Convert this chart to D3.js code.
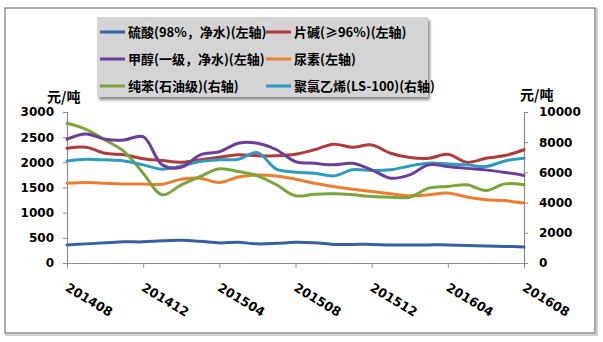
<!DOCTYPE html>
<html><head><meta charset="utf-8">
<script src="https://cdn.jsdelivr.net/npm/d3@7/dist/d3.min.js"></script>
<style>
html,body{margin:0;padding:0;background:#fff;}
svg{display:block;}
</style></head>
<body>
<svg id="c" width="603" height="342"></svg>
<script>
const months = ["201408","201409","201410","201411","201412","201501","201502","201503","201504","201505","201506","201507","201508","201509","201510","201511","201512","201601","201602","201603","201604","201605","201606","201607","201608"];
const tickLabels = ["201408","201412","201504","201508","201512","201604","201608"];
const leftTicks = [0,500,1000,1500,2000,2500,3000];
const rightTicks = [0,2000,4000,6000,8000,10000];

const sulfuric = [360,380,400,420,420,440,450,430,400,410,380,390,410,400,370,370,370,360,360,360,360,350,340,330,320];
const caustic = [2280,2300,2180,2150,2070,2035,2000,2050,2100,2150,2130,2130,2160,2250,2360,2300,2345,2180,2095,2080,2160,2000,2080,2135,2250];
const methanol = [2460,2565,2460,2445,2510,1950,1900,2150,2210,2380,2380,2250,2015,1980,1950,1980,1850,1685,1750,1950,1915,1880,1850,1800,1740];
const urea = [1585,1600,1585,1570,1570,1565,1665,1685,1600,1710,1750,1730,1665,1585,1520,1465,1420,1375,1335,1355,1390,1310,1255,1240,1190];
const benzene = [9250,8855,8150,7380,5950,4515,5180,5730,6235,6060,5770,5180,4450,4560,4580,4515,4400,4360,4360,4960,5070,5180,4800,5240,5180];
const pvc = [6760,6870,6830,6760,6500,6210,6430,6720,6830,6870,7310,6210,6015,5950,5770,6170,6125,6170,6430,6610,6565,6500,6390,6760,6940];

const seriesNames = ["硫酸(98%，净水)(左轴)","片碱(≥96%)(左轴)","甲醇(一级，净水)(左轴)","尿素(左轴)","纯苯(石油级)(右轴)","聚氯乙烯(LS-100)(右轴)"];
const seriesColors = ["#3461a6","#b33a3a","#6b3f98","#ec7e2f","#7aa53a","#2f9cbf"];
const seriesData = [sulfuric, caustic, methanol, urea, benzene, pvc];
const seriesAxis = ["L","L","L","L","R","R"];

const svg = d3.select("#c");
const x0 = 67, x1 = 524, yTop = 112, yBot = 263;

// outer frame
svg.append("rect").attr("x",6).attr("y",9).attr("width",591).attr("height",326)
  .attr("fill","none").attr("stroke","#d0d0d0").attr("stroke-width",2);
svg.append("rect").attr("x",5).attr("y",8).attr("width",590).attr("height",325)
  .attr("fill","#fff").attr("stroke","#7f7f7f").attr("stroke-width",1.3);

const x = d3.scalePoint().domain(months).range([x0,x1]);
const yL = d3.scaleLinear().domain([0,3000]).range([yBot,yTop]);
const yR = d3.scaleLinear().domain([0,10000]).range([yBot,yTop]);

const numFont = "'DejaVu Sans', Verdana, sans-serif";
const cjkFont = "'Noto Sans CJK SC', 'Noto Sans', sans-serif";

// left axis
const gL = svg.append("g").attr("transform",`translate(${x0},0)`)
  .call(d3.axisLeft(yL).tickValues(leftTicks).tickFormat(d3.format("d")).tickSize(4).tickPadding(9));
gL.select(".domain").attr("stroke","#8c8c8c").attr("stroke-width",1.2);
gL.selectAll(".tick line").attr("stroke","#8c8c8c");
gL.selectAll(".tick text").attr("font-family",numFont).attr("font-weight","bold").attr("font-size",12).attr("fill","#000");

// right axis
const gR = svg.append("g").attr("transform",`translate(${x1},0)`)
  .call(d3.axisRight(yR).tickValues(rightTicks).tickFormat(d3.format("d")).tickSize(4).tickPadding(11));
gR.select(".domain").attr("stroke","#8c8c8c").attr("stroke-width",1.2);
gR.selectAll(".tick line").attr("stroke","#8c8c8c");
gR.selectAll(".tick text").attr("font-family",numFont).attr("font-weight","bold").attr("font-size",12).attr("fill","#000");

// bottom axis
const gB = svg.append("g").attr("transform",`translate(0,${yBot})`)
  .call(d3.axisBottom(x).tickValues(tickLabels).tickSize(5).tickSizeOuter(0));
gB.select(".domain").attr("stroke","#8c8c8c").attr("stroke-width",1.2);
gB.selectAll(".tick line").attr("stroke","#8c8c8c");
gB.selectAll(".tick text").attr("font-family",numFont).attr("font-weight","bold").attr("font-size",12.5).attr("fill","#000")
  .attr("text-anchor","start").attr("dy",null).attr("y",0)
  .attr("transform","translate(-3,27) rotate(31)");

// units
svg.append("text").attr("x",47).attr("y",102).text("元/吨").attr("font-family",cjkFont).attr("font-weight","bold").attr("font-size",14);
svg.append("text").attr("x",520).attr("y",100).text("元/吨").attr("font-family",cjkFont).attr("font-weight","bold").attr("font-size",14);

// lines
const lineL = d3.line().x((d,i)=>x(months[i])).y(d=>yL(d)).curve(d3.curveCatmullRom.alpha(0.5));
const lineR = d3.line().x((d,i)=>x(months[i])).y(d=>yR(d)).curve(d3.curveCatmullRom.alpha(0.5));
const order = [0,3,1,4,5,2];
order.forEach(k=>{
  svg.append("path").attr("d",(seriesAxis[k]==="L"?lineL:lineR)(seriesData[k]))
    .attr("fill","none").attr("stroke",seriesColors[k]).attr("stroke-width",3).attr("stroke-linejoin","round").attr("stroke-linecap","round");
});

// legend
const lx = 97, ly = 17, lw = 331, lh = 80;
const defs = svg.append("defs");
const f = defs.append("filter").attr("id","sh").attr("x","-10%").attr("y","-10%").attr("width","130%").attr("height","140%");
f.append("feGaussianBlur").attr("in","SourceAlpha").attr("stdDeviation",1.5);
f.append("feOffset").attr("dx",2).attr("dy",3).attr("result","o");
f.append("feComponentTransfer").append("feFuncA").attr("type","linear").attr("slope",0.45);
const fm = f.append("feMerge"); fm.append("feMergeNode"); fm.append("feMergeNode").attr("in","SourceGraphic");
svg.append("rect").attr("x",lx).attr("y",ly).attr("width",lw).attr("height",lh).attr("fill","#d4d4d4").attr("filter","url(#sh)");
const rowsY = [32,59,86];
const colX = [100,266];
seriesNames.forEach((n,k)=>{
  const cx = colX[k%2], cy = rowsY[Math.floor(k/2)];
  svg.append("line").attr("x1",cx).attr("x2",cx+25).attr("y1",cy).attr("y2",cy).attr("stroke",seriesColors[k]).attr("stroke-width",3);
  svg.append("text").attr("x",cx+28).attr("y",cy+5).text(n).attr("font-family",cjkFont).attr("font-weight","bold").attr("font-size",13).attr("fill","#000");
});
</script>
</body></html>
